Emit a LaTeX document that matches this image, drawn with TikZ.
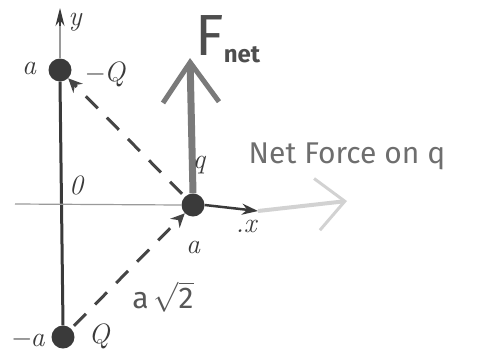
\RequirePackage{fix-cm}
\documentclass[tikz,border=0pt]{standalone}
\usepackage{fontspec}
\newfontfamily\hand{Fira Sans}
\usetikzlibrary{arrows.meta,calc}
\definecolor{chg}{HTML}{3A3A3A}
\definecolor{dashc}{HTML}{454545}
\definecolor{fnet}{HTML}{7A7A7A}
\definecolor{axc}{HTML}{9A9A9A}
\definecolor{faint}{HTML}{D2D2D2}
\definecolor{handc}{HTML}{6E6E6E}
\begin{document}
\begin{tikzpicture}[x=1pt,y=-1pt,
  charge/.style={circle,fill=chg,minimum size=23pt,inner sep=0pt},
  axisline/.style={draw=axc,line width=1.2pt},
  dashline/.style={draw=dashc,line width=3pt,dash pattern=on 17pt off 13pt,
     -{Stealth[length=14pt,width=13pt]}},
  lbl/.style={font=\itshape\fontsize{28}{32}\selectfont,text=chg,inner sep=0pt},
  handlbl/.style={font=\hand\fontsize{30}{34}\selectfont,text=handc,inner sep=0pt}]
\useasboundingbox (0,0) rectangle (481,354);
% charges
\node[charge] (top) at (60,70) {};
\node[charge] (q) at (193,205) {};
\node[charge] (bot) at (63,337) {};
% free ends
\coordinate (ytip) at (60,8);
\coordinate (ybase) at (60,26);
\coordinate (xleft) at (15,204);
\coordinate (xtip) at (258,211);
\coordinate (nettip) at (347,201);
\coordinate (ftip) at (190,58);
% vertical line between charges
\draw[chg,line width=3pt] (top.south) -- (bot.north);
% axes
\draw[axisline] (top.north) -- (ybase);
\draw[axisline,draw=chg,-{Stealth[length=18pt,width=9pt]}] (ybase) -- (ytip);
\draw[axisline] (xleft) -- (q.west);
% faint net-force arrow
\draw[faint,line width=4pt,-{Straight Barb[length=28pt,width=52pt,line width=3pt]}] (xtip) -- (nettip);
% x arrow
\draw[chg,line width=2.5pt,-{Stealth[length=16pt,width=11pt]}] (q.east) -- (xtip);
% Fnet arrow
\draw[fnet,line width=7pt,-{Straight Barb[length=40pt,width=56pt,line width=5pt]}] (q.north) -- (ftip);
% dashed force lines
\draw[dashline,shorten <=4pt] (q) -- (top);
\draw[dashline,shorten <=4pt] (bot) -- (q);
% labels
\node[lbl] (ly) at (75,22) {y};
\node[lbl] (la) at (29,68) {a};
\node[lbl] (lmq) at (104,74) {−Q};
\node[lbl] (l0) at (76,185) {0};
\node[lbl] (lq) at (199,165) {q};
\node[lbl] (lx) at (246,226) {.x};
\node[lbl] (la2) at (193,247) {a};
\node[lbl] (lma) at (27,340) {−a};
\node[lbl] (lQ) at (99,336) {Q};
\node[handlbl,text=chg!85] (lsq) at (163,297) {a\,$\sqrt{\mbox{\hand 2}}$};
\node[handlbl,font=\hand\fontsize{58}{62}\selectfont,text=chg!90] (lF) at (210,36) {F};
\node[handlbl,font=\hand\bfseries\fontsize{24}{28}\selectfont,text=chg!90] (lnet) at (242,55) {net};
\node[handlbl] (lnf) at (347,156) {Net Force on q};
\end{tikzpicture}
\end{document}
